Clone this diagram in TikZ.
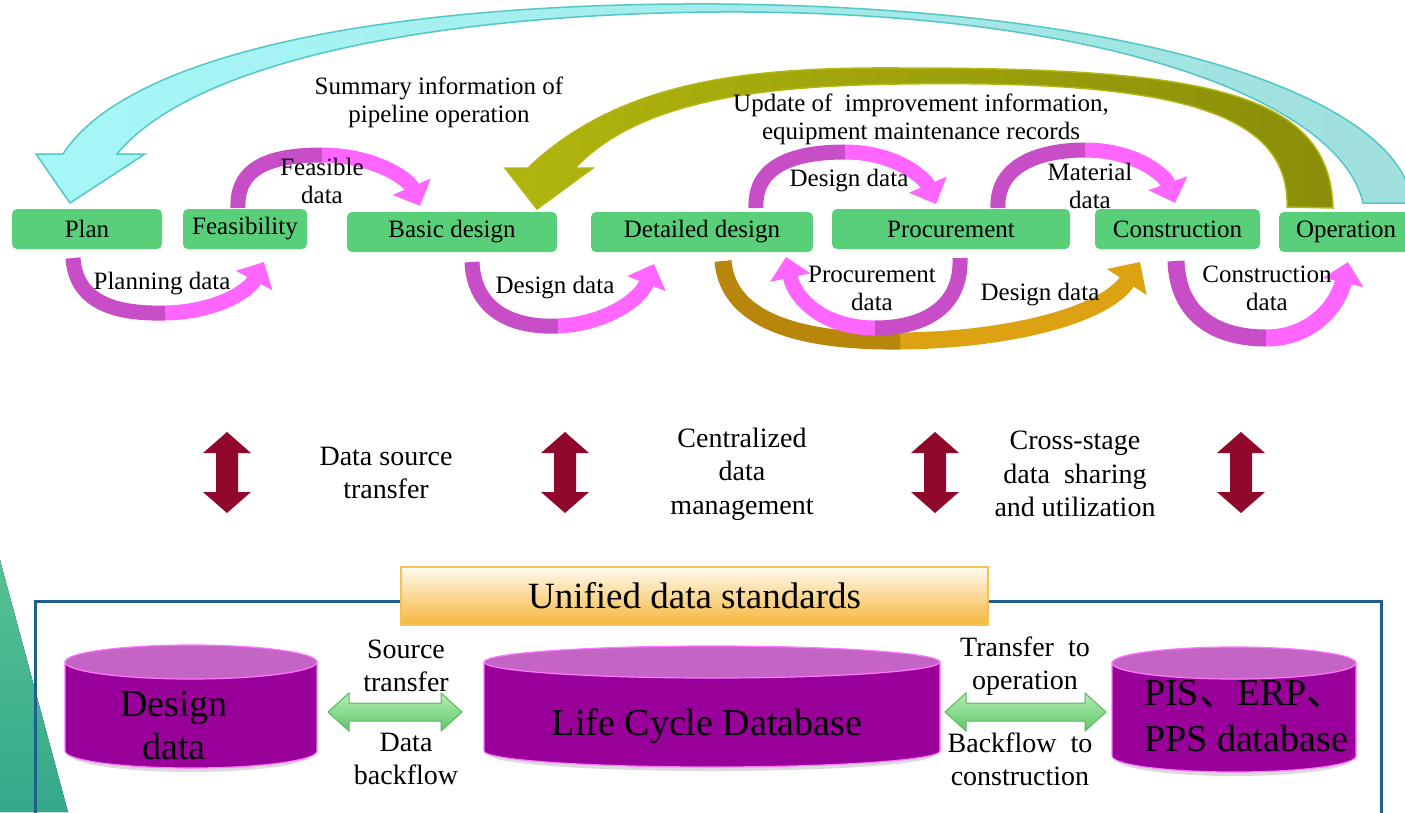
\documentclass[tikz,border=0pt]{standalone}
\usepackage{fontspec}
\setmainfont{Liberation Serif}
\newfontfamily\cjk{Noto Sans CJK SC}
\usetikzlibrary{arrows.meta}
\definecolor{boxgreen}{RGB}{90,207,121}
\definecolor{pinkc}{RGB}{255,102,255}
\definecolor{purpc}{RGB}{200,78,200}
\definecolor{goldL}{RGB}{220,162,18}
\definecolor{goldD}{RGB}{184,134,11}
\definecolor{cyanL}{RGB}{166,247,247}
\definecolor{cyanR}{RGB}{160,224,222}
\definecolor{cyanE}{RGB}{84,198,198}
\definecolor{oliveL}{RGB}{176,181,14}
\definecolor{oliveR}{RGB}{138,142,8}
\definecolor{oliveE}{RGB}{180,182,20}
\definecolor{darkred}{RGB}{145,8,45}
\definecolor{cylbody}{RGB}{153,0,153}
\definecolor{cyltop}{RGB}{196,100,196}
\definecolor{cylline}{RGB}{255,120,255}
\definecolor{framec}{RGB}{31,95,139}
\definecolor{stdtop}{RGB}{255,250,238}
\definecolor{stdbot}{RGB}{245,183,60}
\definecolor{stdline}{RGB}{245,195,80}
\definecolor{gtop}{RGB}{178,238,178}
\definecolor{gbot}{RGB}{96,198,106}
\definecolor{gline}{RGB}{92,182,96}
\definecolor{tealA}{RGB}{86,194,146}
\definecolor{tealB}{RGB}{52,168,140}
\newcommand{\mycyl}[5]{%
  \fill[black!14] (#1+6,#3) -- (#1+6,#4+4) arc[start angle=180, end angle=360, x radius={(#2-#1)/2*1pt-6pt}, y radius=#5pt] -- (#2-6,#3) -- cycle;
  \fill[cylbody, draw=cylline, line width=1.2pt] (#1,#3) -- (#1,#4) arc[start angle=180, end angle=360, x radius={(#2-#1)/2*1pt}, y radius=#5pt] -- (#2,#3) -- cycle;
  \filldraw[fill=cyltop, draw=cylline, line width=1.2pt] ({(#1+#2)/2},#3) ellipse [x radius={(#2-#1)/2*1pt}, y radius=#5pt];
}
\newcommand{\hdarrow}[3]{%
  \draw[garrowst] (#1,#3) -- (#1+21,#3-19) -- (#1+21,#3-9) -- (#2-21,#3-9) -- (#2-21,#3-19) -- (#2,#3) -- (#2-21,#3+19) -- (#2-21,#3+9) -- (#1+21,#3+9) -- (#1+21,#3+19) -- cycle;}
\newcommand{\vdarrow}[1]{%
  \fill[darkred] (#1,432) -- (#1+24,453) -- (#1+11,453) -- (#1+11,492) -- (#1+24,492) -- (#1,513) -- (#1-24,492) -- (#1-11,492) -- (#1-11,453) -- (#1-24,453) -- cycle;}
\begin{document}
\begin{tikzpicture}[x=1pt,y=-1pt,
  stage/.style={fill=boxgreen, rounded corners=5pt, minimum height=40pt, inner sep=0pt, font=\fontsize{25}{28}\selectfont},
  lbl/.style={align=center, font=\fontsize{25}{28}\selectfont, inner sep=0pt},
  mlbl/.style={align=center, font=\fontsize{28}{33.5}\selectfont, inner sep=0pt},
  blbl/.style={align=center, font=\fontsize{28}{33}\selectfont, inner sep=0pt},
  cyltext/.style={align=center, font=\fontsize{38}{43}\selectfont, inner sep=0pt},
  pinkhead/.style={line width=15pt, draw=pinkc, -{Triangle[length=21pt,width=40pt]}},
  purpseg/.style={line width=15pt, draw=purpc},
  goldhead/.style={line width=17pt, draw=goldL, -{Triangle[length=24pt,width=46pt]}},
  goldseg/.style={line width=17pt, draw=goldD},
  garrowst/.style={draw=gline, line width=1pt, top color=gtop, bottom color=gbot},
]
\useasboundingbox (0,0) rectangle (1405,812);
\fill[white] (0,0) rectangle (1405,812);

% left decoration
\fill[top color=tealA, bottom color=tealB] (0,560) -- (68,812) -- (0,812) -- cycle;

% big cyan arrow (Operation -> Plan)
\draw[draw=cyanE, line width=1.5pt, left color=cyanL, right color=cyanR]
  (1412,203) .. controls (1402,100) and (1150,8) .. (720,4)
  .. controls (400,2) and (130,50) .. (63,154)
  -- (36,154) -- (70,203) -- (145,154) -- (117,154)
  .. controls (190,65) and (420,14) .. (720,12)
  .. controls (1100,10) and (1340,100) .. (1363,203) -- cycle;

% big olive arrow (Operation -> Basic design)
\draw[draw=oliveE, line width=1.5pt, left color=oliveL, middle color=oliveL, right color=oliveR]
  (1333,208) .. controls (1330,90) and (1200,68) .. (900,68)
  .. controls (750,67) and (620,80) .. (528,168)
  -- (505,168) -- (537,209) -- (593,168) -- (575,168)
  .. controls (640,100) and (760,86) .. (900,84)
  .. controls (1165,80) and (1290,108) .. (1287,207) -- cycle;

% stage boxes
\node[stage, minimum width=150pt] (plan) at (87,229) {Plan};
\node[stage, minimum width=124pt] (feas) at (245,229) {Feasibility};
\node[stage, minimum width=210pt] (basic) at (452,232) {Basic design};
\node[stage, minimum width=222pt] (det) at (702,232) {Detailed design};
\node[stage, minimum width=238pt] (proc) at (951,229) {Procurement};
\node[stage, minimum width=165pt] (cons) at (1177.5,229) {Construction};
\node[stage, minimum width=134pt] (oper) at (1346,232) {Operation};

% named end points of the curved arrows
\coordinate (a1s) at (73,258);   \coordinate (a1m) at (165,313);  \coordinate (a1e) at (264,262);
\coordinate (a2s) at (238,208);  \coordinate (a2m) at (322,155);  \coordinate (a2e) at (420,206);
\coordinate (a3s) at (472,262);  \coordinate (a3m) at (558,326);  \coordinate (a3e) at (654,264);
\coordinate (a4s) at (756,208);  \coordinate (a4m) at (845,152);  \coordinate (a4e) at (936,204);
\coordinate (a5s) at (998,208);  \coordinate (a5m) at (1085,150); \coordinate (a5e) at (1175,203);
\coordinate (a6s) at (960,258);  \coordinate (a6m) at (875,328);  \coordinate (a6e) at (786,257);
\coordinate (a7s) at (723,261);  \coordinate (a7m) at (900,341);  \coordinate (a7e) at (1140,262);
\coordinate (a8s) at (1176,261); \coordinate (a8m) at (1266,338); \coordinate (a8e) at (1348,262);

% Plan -> Feasibility
\draw[pinkhead] (a1m) .. controls (215,312) and (248,292) .. (a1e);
\draw[purpseg] (a1s) .. controls (76,305) and (120,314) .. (a1m);
% Feasibility -> Basic design
\draw[pinkhead] (a2m) .. controls (372,155) and (408,178) .. (a2e);
\draw[purpseg] (a2s) .. controls (236,165) and (275,155) .. (a2m);
% Basic design -> Detailed design
\draw[pinkhead] (a3m) .. controls (605,324) and (640,300) .. (a3e);
\draw[purpseg] (a3s) .. controls (474,312) and (515,328) .. (a3m);
% Detailed design -> Procurement
\draw[pinkhead] (a4m) .. controls (895,152) and (925,178) .. (a4e);
\draw[purpseg] (a4s) .. controls (754,165) and (795,152) .. (a4m);
% Procurement -> Construction
\draw[pinkhead] (a5m) .. controls (1135,150) and (1165,175) .. (a5e);
\draw[purpseg] (a5s) .. controls (996,165) and (1040,150) .. (a5m);
% Detailed design -> Construction (gold)
\draw[goldhead] (a7m) .. controls (1010,340) and (1105,315) .. (a7e);
\draw[goldseg] (a7s) .. controls (728,325) and (810,342) .. (a7m);
% Procurement -> Detailed design
\draw[pinkhead] (a6m) .. controls (825,328) and (795,300) .. (a6e);
\draw[purpseg] (a6s) .. controls (962,310) and (920,328) .. (a6m);
% Construction -> Operation
\draw[pinkhead, line width=17pt] (a8m) .. controls (1312,338) and (1338,305) .. (a8e);
\draw[purpseg, line width=17pt] (a8s) .. controls (1178,320) and (1222,338) .. (a8m);

% top labels
\node[lbl] (l-sum) at (439,102) {Summary information of\\pipeline operation};
\node[lbl] (l-upd) at (921,119) {Update of~~improvement information,\\equipment maintenance records};
\node[lbl] (l-feas) at (322,181) {Feasible\\data};
\node[lbl] (l-plan) at (162,284) {Planning data};
\node[lbl] (l-des1) at (555,288) {Design data};
\node[lbl] (l-des2) at (849,181) {Design data};
\node[lbl] (l-mat) at (1090,186) {Material\\data};
\node[lbl] (l-proc) at (872,288) {Procurement\\data};
\node[lbl] (l-des3) at (1040,295) {Design data};
\node[lbl] (l-cons) at (1267,288) {Construction\\data};

% middle double arrows and texts
\vdarrow{227}
\vdarrow{565}
\vdarrow{935}
\vdarrow{1241}
\node[mlbl] (m1) at (386,473) {Data source\\transfer};
\node[mlbl] (m2) at (742,474) {Centralized\\data\\management};
\node[mlbl] (m3) at (1075,474) {Cross-stage\\data~~sharing\\and utilization};

% frame and standards banner
\draw[framec, line width=3pt] (35,830) -- (35,601) -- (1381,601) -- (1381,830);
\node[draw=stdline, line width=1.2pt, top color=stdtop, bottom color=stdbot, minimum width=587pt, minimum height=58pt, inner sep=0pt, font=\fontsize{37}{40}\selectfont] (std) at (694.5,596) {Unified data standards};

% cylinders
\mycyl{65}{317}{662}{751}{17}
\mycyl{484}{940}{662}{751}{16}
\mycyl{1112}{1356}{663}{756}{16}
\node[cyltext] (dd) at (174,726) {Design\\data};
\node[cyltext] (lcd) at (707,726) {Life Cycle Database};
\node[cyltext, align=left, font=\fontsize{38}{46}\selectfont] (pis) at (1246,716) {PIS{\cjk 、}ERP{\cjk 、}\\PPS database};

% green double arrows and labels
\hdarrow{328}{462}{712}
\hdarrow{945}{1106}{712}
\node[blbl] (b1) at (406,666) {Source\\transfer};
\node[blbl] (b2) at (406,759) {Data\\backflow};
\node[blbl] (b3) at (1025,666) {Transfer~~to\\operation};
\node[blbl] (b4) at (1020,759) {Backflow~~to\\construction};
\end{tikzpicture}
\end{document}
